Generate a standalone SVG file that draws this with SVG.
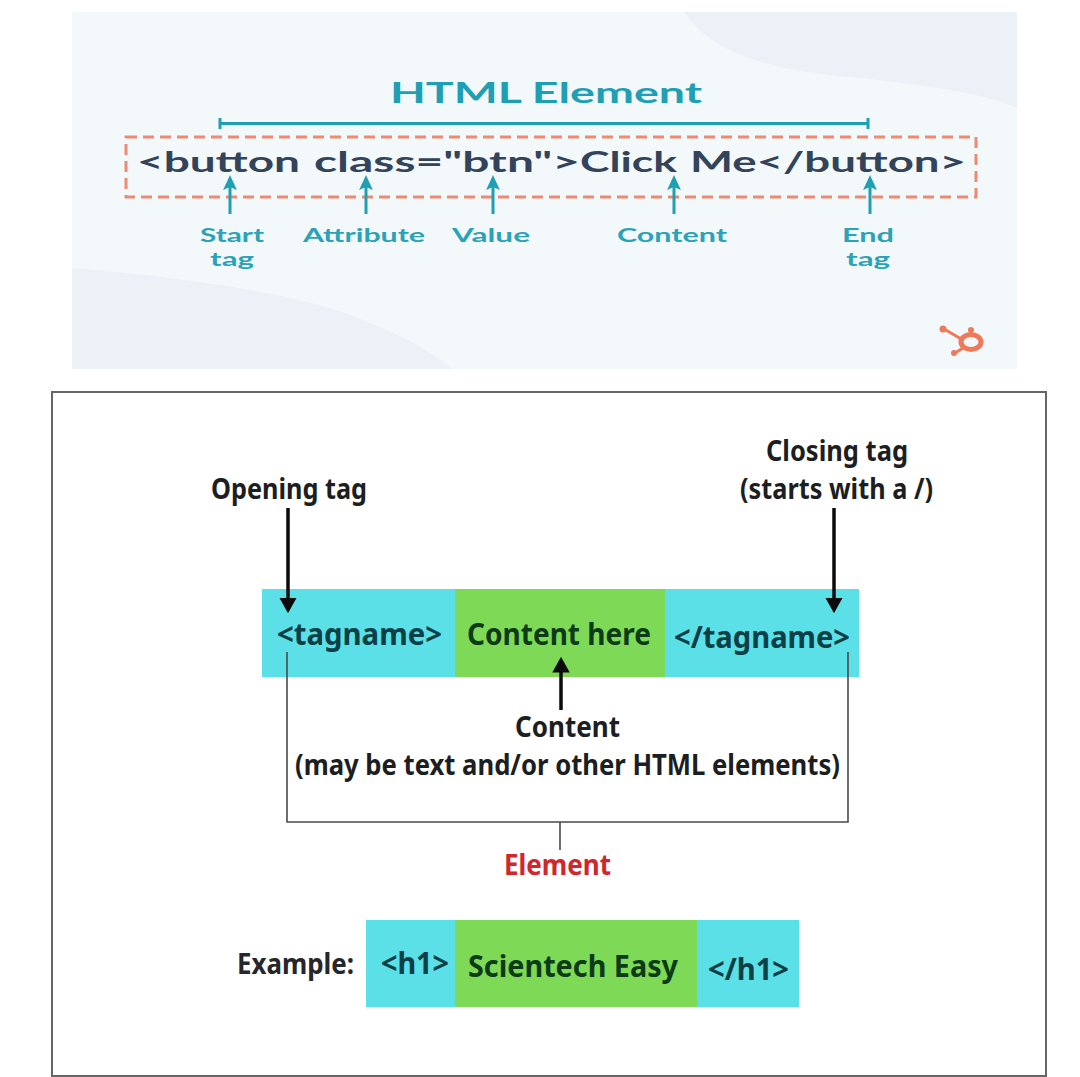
<svg xmlns="http://www.w3.org/2000/svg" width="1080" height="1077" viewBox="0 0 1080 1077">
<defs>
<style>
.t{font-family:"Lato","Liberation Sans",sans-serif}
.teal{fill:#2aa3b8;font-weight:700;font-size:19px;text-anchor:middle}
.code{fill:#33435a;font-weight:700;font-size:29px}
.b{font-family:"Noto Sans","Liberation Sans",sans-serif;font-weight:700;fill:#1c1e21;font-size:29px}
.dk{fill:#0c3f46;font-size:31px}
.gn{fill:#0d3b17;font-size:31px}
.cy{fill:#5be0e8}
.lg{fill:#7ed957}
.ta{stroke:#1f9fb4;stroke-width:3;fill:none}
.ba{stroke:#0b0b0b;stroke-width:3.5;fill:none}
.br{stroke:#4a4a4a;stroke-width:1.6;fill:none}
.logo{stroke:#ee7a5a;fill:none}
</style>
<marker id="tah" markerWidth="5" markerHeight="4.6" refX="2" refY="2.3" orient="auto" markerUnits="strokeWidth"><path d="M0 0L5 2.300L0 4.600L1 2.300Z" fill="#1f9fb4"/></marker>
<marker id="bah" markerWidth="4.5" markerHeight="5" refX="1" refY="2.500" orient="auto" markerUnits="strokeWidth"><path d="M0 0L4.500 2.500L0 5Z" fill="#0b0b0b"/></marker>
</defs>
<rect width="1080" height="1077" fill="#fff"/>
<g id="panel-top">
<rect x="72" y="12" width="945" height="357" fill="#f3f8fb"/>
<path d="M684 12C710 50 760 68 840 76C920 84 980 92 1017 108V12Z" fill="#ecf1f8"/>
<path d="M72 268C170 276 290 292 350 315C400 334 430 350 452 369H72Z" fill="#ecf1f8"/>
<text x="546" y="103" class="t" font-size="28" font-weight="700" fill="#1f9fb4" text-anchor="middle" textLength="312" lengthAdjust="spacingAndGlyphs">HTML Element</text>
<rect x="126" y="137" width="850" height="60" fill="none" stroke="#ee8a72" stroke-width="3" stroke-dasharray="11 6"/>
<text x="137" y="172" class="t code" textLength="163" lengthAdjust="spacingAndGlyphs">&lt;button</text>
<text x="314" y="172" class="t code" textLength="266" lengthAdjust="spacingAndGlyphs">class="btn"&gt;</text>
<text x="580" y="172" class="t code" textLength="97" lengthAdjust="spacingAndGlyphs">Click</text>
<text x="690" y="172" class="t code" textLength="276" lengthAdjust="spacingAndGlyphs">Me&lt;/button&gt;</text>
<path class="logo" stroke-width="3" d="M944 329L963 340M971 331V337M963 348L955 353"/>
<circle cx="943" cy="329" r="3.500" fill="#ee7a5a"/><circle cx="971" cy="330" r="3" fill="#ee7a5a"/><circle cx="954" cy="353" r="3" fill="#ee7a5a"/>
<ellipse class="logo" cx="971" cy="342" rx="10" ry="7.500" stroke-width="5"/>
</g>
<g id="connectors">
<path class="ta" d="M220 123.500H868M220 118V129M868 118V129"/>
<path class="ta" marker-end="url(#tah)" d="M230 214V184"/>
<path class="ta" marker-end="url(#tah)" d="M366 214V184"/>
<path class="ta" marker-end="url(#tah)" d="M493 214V184"/>
<path class="ta" marker-end="url(#tah)" d="M674 214V184"/>
<path class="ta" marker-end="url(#tah)" d="M870 214V184"/>
</g>
<g id="label-start"><text class="t teal" x="232" y="242" textLength="64" lengthAdjust="spacingAndGlyphs">Start</text><text class="t teal" x="232" y="266" textLength="44" lengthAdjust="spacingAndGlyphs">tag</text></g>
<g id="label-attribute"><text class="t teal" x="364" y="242" textLength="122" lengthAdjust="spacingAndGlyphs">Attribute</text></g>
<g id="label-value"><text class="t teal" x="491" y="242" textLength="78" lengthAdjust="spacingAndGlyphs">Value</text></g>
<g id="label-content"><text class="t teal" x="672" y="242" textLength="110" lengthAdjust="spacingAndGlyphs">Content</text></g>
<g id="label-end"><text class="t teal" x="868" y="242" textLength="52" lengthAdjust="spacingAndGlyphs">End</text><text class="t teal" x="868" y="266" textLength="44" lengthAdjust="spacingAndGlyphs">tag</text></g>
<g id="panel-bottom">
<rect x="52" y="392" width="994" height="684" fill="#fff" stroke="#666" stroke-width="2"/>
</g>
<g id="node-open"><rect class="cy" x="262" y="589" width="193" height="88"/><text class="b dk" x="277" y="645" textLength="165" lengthAdjust="spacingAndGlyphs">&lt;tagname&gt;</text></g>
<g id="node-content"><rect class="lg" x="455" y="589" width="210" height="88"/><text class="b gn" x="467" y="645" textLength="184" lengthAdjust="spacingAndGlyphs">Content here</text></g>
<g id="node-close"><rect class="cy" x="665" y="589" width="194" height="88"/><text class="b dk" x="674" y="648" textLength="176" lengthAdjust="spacingAndGlyphs">&lt;/tagname&gt;</text></g>
<g id="label-opening"><text class="b" x="211" y="499" textLength="156" lengthAdjust="spacingAndGlyphs">Opening tag</text></g>
<g id="label-closing"><text class="b" x="766" y="461" textLength="142" lengthAdjust="spacingAndGlyphs">Closing tag</text><text class="b" x="740" y="499" textLength="193" lengthAdjust="spacingAndGlyphs">(starts with a /)</text></g>
<g id="label-content-note"><text class="b" x="515" y="737" textLength="105" lengthAdjust="spacingAndGlyphs">Content</text><text class="b" x="295" y="775" textLength="545" lengthAdjust="spacingAndGlyphs">(may be text and/or other HTML elements)</text></g>
<g id="label-element"><text class="b" x="504" y="875" style="fill:#d0262c" textLength="107" lengthAdjust="spacingAndGlyphs">Element</text></g>
<g id="label-example"><text class="b" x="237" y="974" style="fill:#26262b" textLength="117" lengthAdjust="spacingAndGlyphs">Example:</text></g>
<g id="node-ex-open"><rect class="cy" x="366" y="920" width="89" height="87"/><text class="b dk" x="381" y="974" textLength="68" lengthAdjust="spacingAndGlyphs">&lt;h1&gt;</text></g>
<g id="node-ex-content"><rect class="lg" x="455" y="920" width="242" height="87"/><text class="b gn" x="468" y="977" textLength="210" lengthAdjust="spacingAndGlyphs">Scientech Easy</text></g>
<g id="node-ex-close"><rect class="cy" x="697" y="920" width="102" height="87"/><text class="b dk" x="708" y="980" textLength="81" lengthAdjust="spacingAndGlyphs">&lt;/h1&gt;</text></g>
<g id="connectors-bottom">
<path class="ba" marker-end="url(#bah)" d="M288 508V601"/>
<path class="ba" marker-end="url(#bah)" d="M834 508V601"/>
<path class="ba" marker-end="url(#bah)" d="M561 710V669"/>
<path class="br" d="M287 652V822H848V652M560 822V850"/>
</g>
</svg>
